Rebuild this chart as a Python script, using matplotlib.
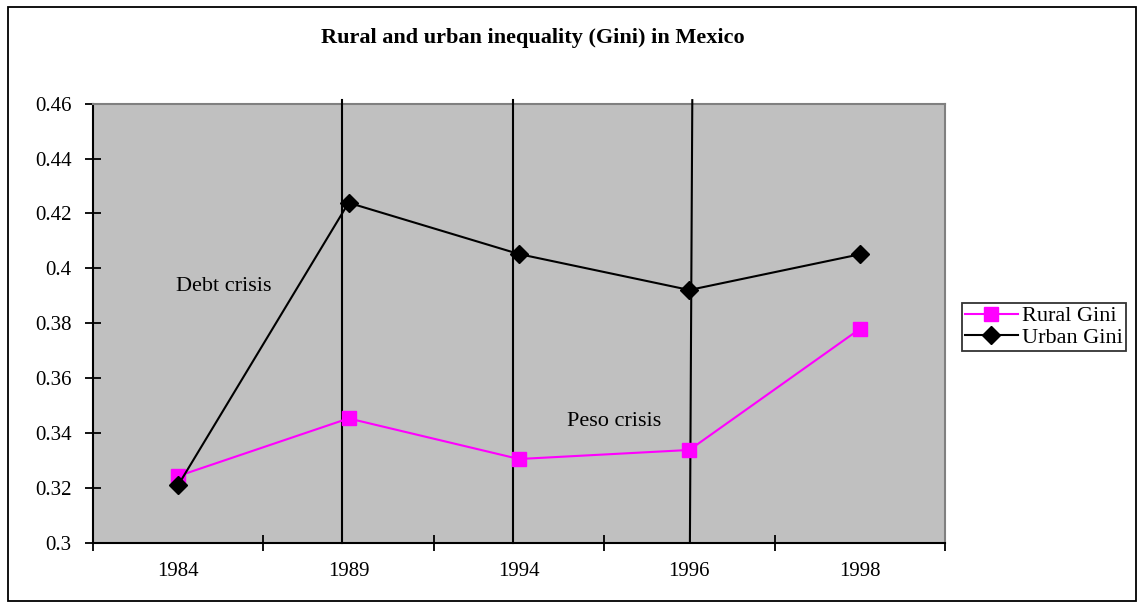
import matplotlib
matplotlib.use("Agg")
import matplotlib.pyplot as plt
from matplotlib.patches import Rectangle
from matplotlib.ticker import FixedLocator, NullFormatter

years = ["1984", "1989", "1994", "1996", "1998"]
rural_gini = [0.3243, 0.3453, 0.3305, 0.3338, 0.3779]
urban_gini = [0.3210, 0.4239, 0.4052, 0.3921, 0.4051]
y_ticks = [0.3, 0.32, 0.34, 0.36, 0.38, 0.4, 0.42, 0.44, 0.46]
y_tick_labels = ["0.3", "0.32", "0.34", "0.36", "0.38", "0.4", "0.42", "0.44", "0.46"]
# crisis marker lines (category coords: top x, bottom x)
crisis_top_x = [0.963, 1.967, 3.017]
crisis_bottom_x = [0.963, 1.967, 3.003]
crisis_top_y = 0.4613
crisis_bottom_y = 0.30
annotations = [("Debt crisis", -0.01, 0.3932), ("Peso crisis", 2.28, 0.3443)]

plt.rcParams['font.family'] = ['Liberation Serif', 'DejaVu Serif']

W, H = 1139, 607
fig = plt.figure(figsize=(W / 100, H / 100), dpi=100)
fig.patch.set_facecolor('white')

# outer frame
fig.patches.append(Rectangle((8 / W, 1 - 601 / H), (1136 - 8) / W, (601 - 7) / H,
                             transform=fig.transFigure, fill=False,
                             edgecolor='black', linewidth=1.3))

ax = fig.add_axes([93 / W, 1 - 542.7 / H, (945 - 93) / W, (542.7 - 103.7) / H])
ax.set_facecolor('#C0C0C0')

x = list(range(len(years)))
ax.plot(x, rural_gini, color='#FF00FF', linewidth=1.5, marker='s', markersize=10,
        markerfacecolor='#FF00FF', markeredgecolor='#FF00FF', label='Rural Gini', zorder=4)
ax.plot(x, urban_gini, color='black', linewidth=1.5, marker='D', markersize=9.5,
        markerfacecolor='black', markeredgecolor='black', label='Urban Gini', zorder=5)

for xt, xb in zip(crisis_top_x, crisis_bottom_x):
    ax.plot([xt, xb], [crisis_top_y, crisis_bottom_y], color='black', linewidth=1.5,
            clip_on=False, zorder=3)

for txt, tx, ty in annotations:
    ax.text(tx, ty, txt, fontsize=16, ha='left', va='center', color='black')

ax.set_xlim(-0.5, len(years) - 0.5)
ax.set_ylim(0.3, 0.46)
ax.xaxis.set_major_locator(FixedLocator([i - 0.5 for i in range(len(years) + 1)]))
ax.xaxis.set_major_formatter(NullFormatter())
ax.xaxis.set_minor_locator(FixedLocator(x))
ax.set_xticklabels(years, minor=True)
ax.tick_params(axis='x', which='major', direction='inout', length=11, width=1.3)
ax.tick_params(axis='x', which='minor', length=0, pad=14, labelsize=15)
ax.set_yticks(y_ticks)
ax.set_yticklabels(y_tick_labels)
ax.tick_params(axis='y', direction='inout', length=11, width=1.3, labelsize=15, pad=10)

for s in ['left', 'bottom']:
    ax.spines[s].set_color('black')
    ax.spines[s].set_linewidth(1.5)
for s in ['top', 'right']:
    ax.spines[s].set_color('#808080')
    ax.spines[s].set_linewidth(1.5)

fig.text(533 / W, 1 - 38 / H, "Rural and urban inequality (Gini) in Mexico",
         ha='center', va='center', fontsize=16, fontweight='bold')

leg = fig.legend(loc='center left', bbox_to_anchor=(962 / W, 1 - 327 / H),
                 fontsize=16, frameon=True, fancybox=False, edgecolor='black',
                 handlelength=2.35, handletextpad=0.2, borderpad=0.15,
                 labelspacing=0.05, borderaxespad=0)
leg.get_frame().set_linewidth(1.3)

fig.savefig('out.png', dpi=100, facecolor='white')
